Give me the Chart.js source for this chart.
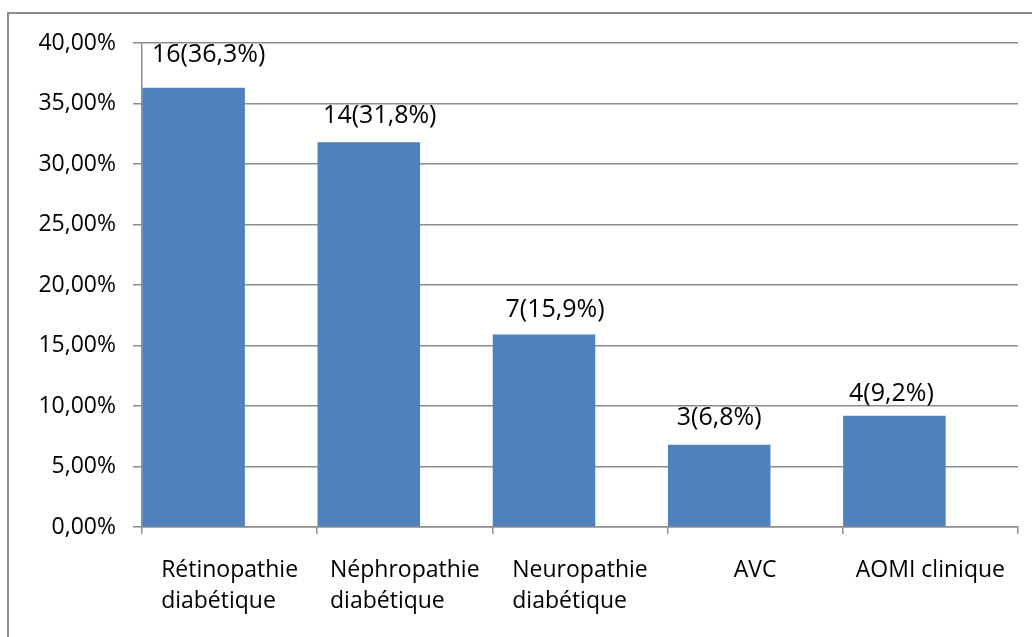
<!DOCTYPE html>
<html>
<head>
<meta charset="utf-8">
<script src="https://cdn.jsdelivr.net/npm/chart.js@4"></script>
<style>
  html, body { margin: 0; padding: 0; background: #fff; overflow: hidden; }
  #frame { position: absolute; left: 7px; top: 12px; width: 1100px; height: 700px;
           border-left: 2px solid #8c8c8c; border-top: 2px solid #8c8c8c; }
  #wrap { position: absolute; left: 0; top: 0; width: 1032px; height: 637px; }
</style>
</head>
<body>
<div id="frame"></div>
<div id="wrap"><canvas id="c" width="1032" height="637"></canvas></div>
<script>
(() => {
  // Données
  const categories = [['Rétinopathie', 'diabétique'], ['Néphropathie', 'diabétique'], ['Neuropathie', 'diabétique'], ['AVC'], ['AOMI clinique']];
  const counts   = [16, 14, 7, 3, 4];
  const percents = [36.3, 31.8, 15.9, 6.8, 9.2];

  const barColor  = '#4f81bd';
  const gridColor = '#8c8c8c';
  const fontFam   = '"Open Sans", sans-serif';

  const fmt = (v, d) => v.toFixed(d).replace('.', ',');

  // petits décalages des étiquettes (placées à la main dans l'original)
  const labelNudge = [[15, -7], [11, 0], [11, 1], [0, -1], [-3, 4]];

  const valueLabels = {
    id: 'valueLabels',
    afterDatasetsDraw(chart) {
      const ctx = chart.ctx;
      const meta = chart.getDatasetMeta(0);
      ctx.save();
      ctx.font = `25px ${fontFam}`;
      ctx.fillStyle = '#000';
      ctx.textAlign = 'center';
      ctx.textBaseline = 'middle';
      meta.data.forEach((bar, i) => {
        const n = labelNudge[i] || [0, 0];
        ctx.fillText(`${counts[i]}(${fmt(percents[i], 1)}%)`, bar.x + n[0], bar.y - 26 + n[1]);
      });
      ctx.restore();
    }
  };

  // Libellés de catégories : bloc aligné à gauche, centré sur la catégorie (comme Excel)
  const categoryLabels = {
    id: 'categoryLabels',
    afterDraw(chart) {
      const ctx = chart.ctx;
      const xs = chart.scales.x;
      ctx.save();
      ctx.font = `23px ${fontFam}`;
      ctx.fillStyle = '#000';
      ctx.textAlign = 'left';
      ctx.textBaseline = 'middle';
      categories.forEach((lines, i) => {
        const cx = xs.getPixelForTick(i);
        const w = Math.max(...lines.map(l => ctx.measureText(l).width));
        lines.forEach((l, k) => ctx.fillText(l, cx - w / 2, xs.top + 43 + k * 31));
      });
      ctx.restore();
    }
  };

  new Chart(document.getElementById('c').getContext('2d'), {
    type: 'bar',
    data: {
      labels: categories,
      datasets: [
        { data: percents, backgroundColor: barColor, borderWidth: 0,
          categoryPercentage: 0.822, barPercentage: 1.424 },
        // série vide, comme dans le graphique Excel d'origine (barres décalées à gauche)
        { data: [], backgroundColor: 'rgba(0,0,0,0)', borderWidth: 0,
          categoryPercentage: 0.822, barPercentage: 1.424 }
      ]
    },
    options: {
      responsive: false,
      animation: false,
      devicePixelRatio: 1,
      layout: { padding: { left: 8, top: 43, right: 14, bottom: 0 } },
      plugins: { legend: { display: false }, tooltip: { enabled: false } },
      scales: {
        x: {
          grid: { display: true, drawOnChartArea: false, drawTicks: true, tickLength: 7,
                  color: gridColor, lineWidth: 1.5, offset: true },
          border: { display: true, color: gridColor, width: 1.5 },
          ticks: { display: false },
          afterFit(scale) { scale.height = 110; }
        },
        y: {
          min: 0, max: 40,
          grid: { color: gridColor, lineWidth: 1.5, tickLength: 9 },
          border: { display: true, color: gridColor, width: 1.5 },
          ticks: { stepSize: 5, color: '#000', padding: 17,
                   font: { family: fontFam, size: 23 },
                   callback: (v) => fmt(v, 2) + '%' },
          afterFit(scale) { scale.width = 134; }
        }
      }
    },
    plugins: [valueLabels, categoryLabels]
  });
})();
</script>
</body>
</html>
